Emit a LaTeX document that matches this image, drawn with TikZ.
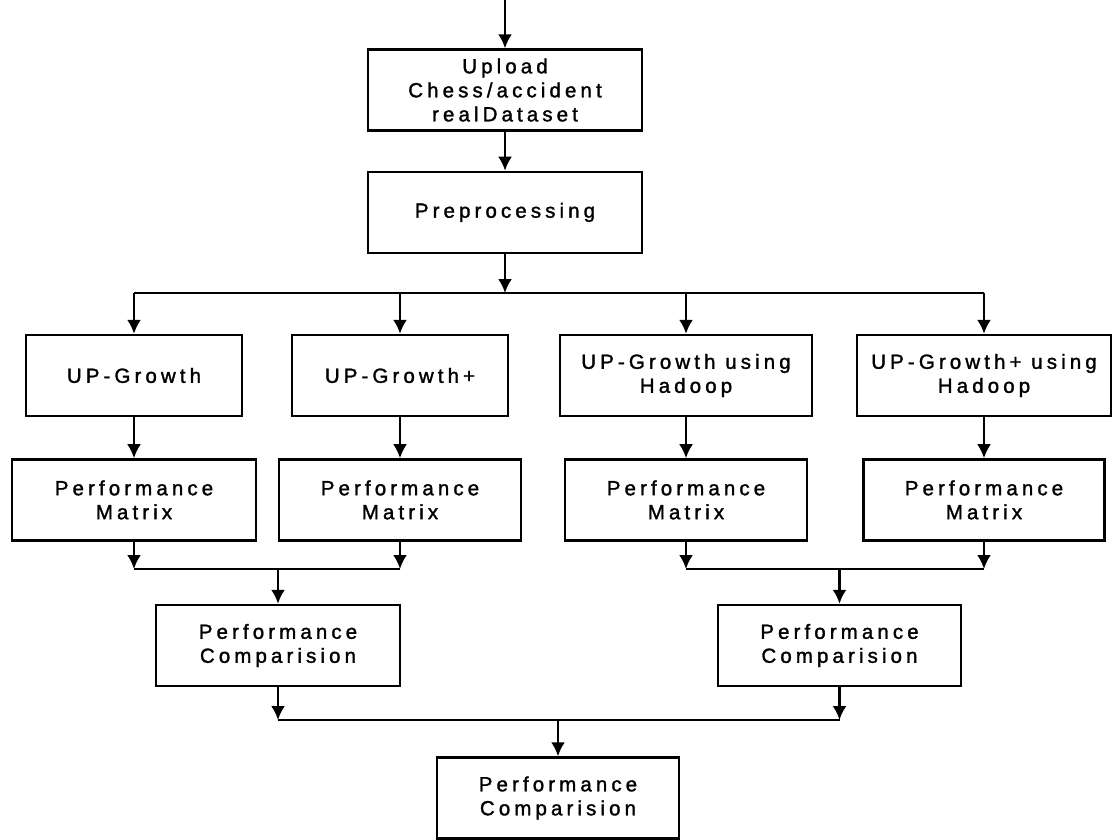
\documentclass[tikz,border=0pt]{standalone}
\usepackage{fontspec}
\newfontfamily\flowfont{Liberation Sans}[LetterSpace=20,FakeBold=1.5]
\usetikzlibrary{arrows.meta,positioning}

\begin{document}
\begin{tikzpicture}[x=1pt,y=-1pt,
    node distance=39pt and 20pt,
    box/.style={draw,line width=2.4pt,minimum height=81pt,inner sep=2pt,align=center,
      font=\flowfont\fontsize{20.5}{24}\selectfont},
    arr/.style={-{Latex[length=14pt,width=14pt]},line width=2.4pt},
    bar/.style={line width=2.4pt}
  ]
  \useasboundingbox (0,0) rectangle (1112,839);
  % input and preprocessing
  \coordinate (in) at (505,0);
  \node[box,minimum width=274pt] (upload) at (505,90) {Upload\\Chess/accident\\realDataset};
  \node[box,minimum width=274pt,below=39pt of upload] (prep) {Preprocessing};
  \draw[arr] (in) -- (upload);
  \draw[arr] (upload) -- (prep);

  % the four algorithms
  \node[box,minimum width=216pt] (ug) at (134,375.5) {UP-Growth};
  \node[box,minimum width=216pt] (ugp) at (400,375.5) {UP-Growth+};
  \node[box,minimum width=252pt] (ugh) at (686,375.5) {UP-Growth using\\Hadoop};
  \node[box,minimum width=254pt] (ughp) at (984,375.5) {UP-Growth+ using\\Hadoop};
  \coordinate (split) at (505,293);
  \draw[arr] (prep) -- (split);
  \draw[bar] (ug |- split) -- (ughp |- split);
  \foreach \b in {ug,ugp,ugh,ughp}
    \draw[arr] (\b |- split) -- (\b);

  % performance matrices
  \node[box,minimum width=244pt,below=41pt of ug] (pmA) {Performance\\Matrix};
  \node[box,minimum width=242pt,below=41pt of ugp] (pmB) {Performance\\Matrix};
  \node[box,minimum width=242pt,below=41pt of ugh] (pmC) {Performance\\Matrix};
  \node[box,minimum width=241pt,below=41pt of ughp] (pmD) {Performance\\Matrix};
  \foreach \a/\b in {ug/pmA,ugp/pmB,ugh/pmC,ughp/pmD}
    \draw[arr] (\a) -- (\b);

  % comparisons
  \node[box,minimum width=244pt] (cmpA) at (278,645.5) {Performance\\Comparision};
  \node[box,minimum width=243pt] (cmpB) at (839.5,645.5) {Performance\\Comparision};
  \coordinate (joinA) at (278,569);
  \coordinate (joinB) at (839.5,569);
  \foreach \p in {pmA,pmB}
    \draw[arr] (\p) -- (\p |- joinA);
  \draw[bar] (pmA |- joinA) -- (pmB |- joinA);
  \draw[arr] (joinA) -- (cmpA);
  \foreach \p in {pmC,pmD}
    \draw[arr] (\p) -- (\p |- joinB);
  \draw[bar] (pmC |- joinB) -- (pmD |- joinB);
  \draw[arr] (joinB) -- (cmpB);

  % final comparison
  \node[box,minimum width=242pt] (final) at (558,798) {Performance\\Comparision};
  \coordinate (joinC) at (558,720);
  \foreach \c in {cmpA,cmpB}
    \draw[arr] (\c) -- (\c |- joinC);
  \draw[bar] (cmpA |- joinC) -- (cmpB |- joinC);
  \draw[arr] (joinC) -- (final);
\end{tikzpicture}
\end{document}
